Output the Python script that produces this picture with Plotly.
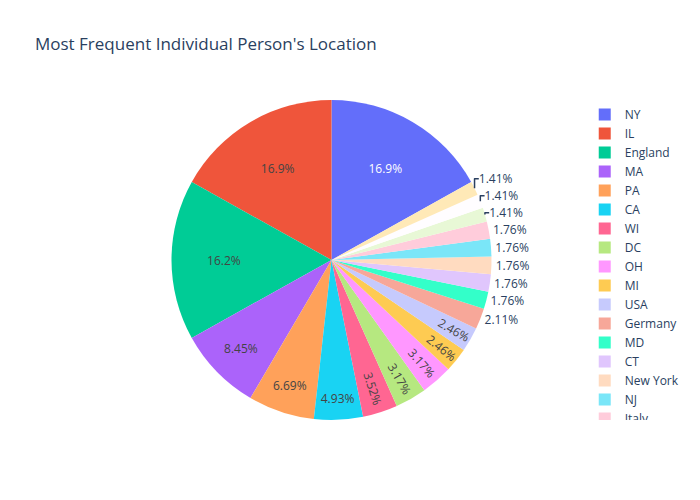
import plotly.graph_objects as go

locations = ["NY", "IL", "England", "MA", "PA", "CA", "WI", "DC", "OH", "MI",
             "USA", "Germany", "MD", "CT", "New York", "NJ", "Italy",
             "France", "Canada", "VA"]
counts = [48, 48, 46, 24, 19, 14, 10, 9, 9, 7, 7, 6, 5, 5, 5, 5, 5, 4, 4, 4]

fig = go.Figure(go.Pie(labels=locations, values=counts))
fig.update_layout(
    title=dict(text="Most Frequent Individual Person's Location"),
    width=700, height=500,
)
hide_scroll = """
var gd = document.getElementById('{plot_id}');
function hideBar(){ gd.querySelectorAll('.legend .scrollbar').forEach(function(e){ e.style.opacity = 0; }); }
hideBar();
gd.on('plotly_afterplot', hideBar);
"""
fig.write_html("out.html", post_script=hide_scroll)
